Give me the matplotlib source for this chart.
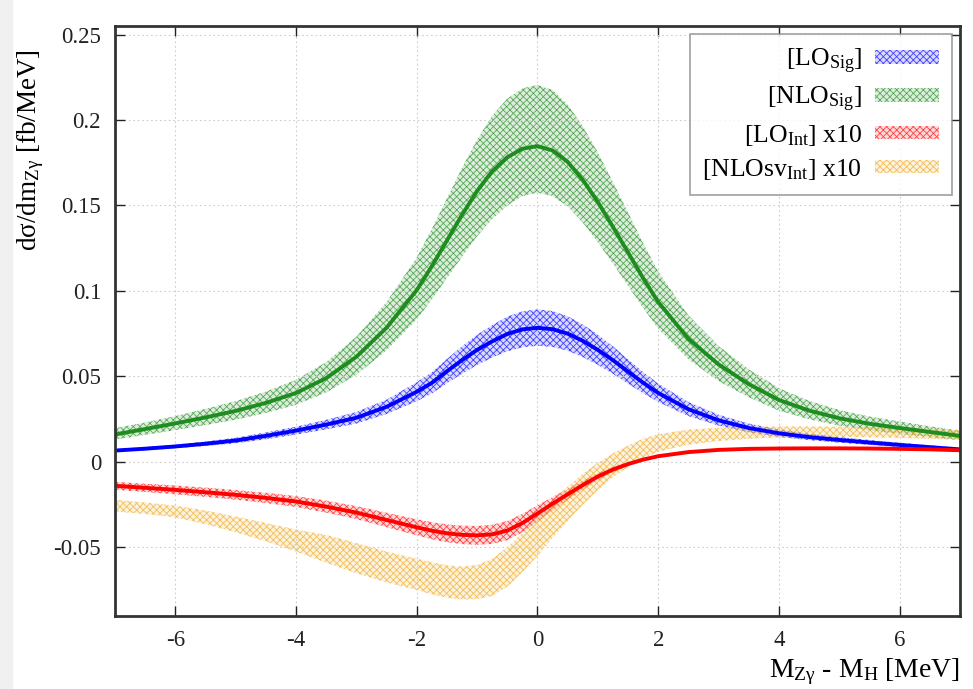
import matplotlib
matplotlib.use("Agg")
import matplotlib.pyplot as plt
import numpy as np

# x grid (M_Zgamma - M_H in MeV)
x = [-7, -6.5, -6, -5.5, -5, -4.5, -4, -3.5, -3, -2.5,
     -2, -1.75, -1.5, -1.25, -1, -0.75, -0.5, -0.25, 0, 0.25, 0.5, 0.75, 1, 1.25, 1.5, 1.75, 2,
     2.5, 3, 3.5, 4, 4.5, 5, 5.5, 6, 6.5, 7]

# [LO_Sig]
lo_sig = [0.0066, 0.0077, 0.0090, 0.0106, 0.0125, 0.0152, 0.0183, 0.0218, 0.0258, 0.0322,
          0.0410, 0.0462, 0.0530, 0.0595, 0.0655, 0.0705, 0.0748, 0.0775, 0.0784, 0.0776, 0.0750,
          0.0708, 0.0655, 0.0595, 0.0528, 0.0463, 0.0403,
          0.0308, 0.0243, 0.0198, 0.0167, 0.0145, 0.0128, 0.0113, 0.0099, 0.0086, 0.0073]
lo_sig_lo = [0.0059, 0.0068, 0.0080, 0.0093, 0.0109, 0.0132, 0.0160, 0.0190, 0.0224, 0.0280,
             0.0355, 0.0400, 0.0460, 0.0515, 0.0567, 0.0610, 0.0647, 0.0670, 0.0679, 0.0672, 0.0650,
             0.0613, 0.0567, 0.0515, 0.0457, 0.0402, 0.0350,
             0.0268, 0.0212, 0.0173, 0.0146, 0.0127, 0.0112, 0.0099, 0.0087, 0.0076, 0.0066]
lo_sig_hi = [0.0073, 0.0086, 0.0100, 0.0119, 0.0141, 0.0172, 0.0206, 0.0246, 0.0292, 0.0364,
             0.0466, 0.0525, 0.0602, 0.0676, 0.0744, 0.0800, 0.0850, 0.0880, 0.0892, 0.0882, 0.0852,
             0.0804, 0.0744, 0.0676, 0.0600, 0.0526, 0.0458,
             0.0350, 0.0276, 0.0224, 0.0189, 0.0164, 0.0145, 0.0128, 0.0112, 0.0097, 0.0080]

# [NLO_Sig]
nlo_sig = [0.0160, 0.0192, 0.0225, 0.0260, 0.0298, 0.0345, 0.0403, 0.0490, 0.0615, 0.0785,
           0.1005, 0.1145, 0.1295, 0.1445, 0.1585, 0.1700, 0.1782, 0.1832, 0.1847, 0.1822, 0.1755,
           0.1650, 0.1520, 0.1375, 0.1225, 0.1075, 0.0935,
           0.0720, 0.0570, 0.0455, 0.0362, 0.0300, 0.0255, 0.0223, 0.0198, 0.0175, 0.0152]
nlo_sig_lo = [0.0130, 0.0158, 0.0186, 0.0215, 0.0247, 0.0286, 0.0334, 0.0406, 0.0510, 0.0652,
              0.0834, 0.0950, 0.1075, 0.1200, 0.1320, 0.1420, 0.1500, 0.1555, 0.1575, 0.1555, 0.1495,
              0.1400, 0.1285, 0.1160, 0.1030, 0.0900, 0.0780,
              0.0600, 0.0473, 0.0378, 0.0300, 0.0249, 0.0212, 0.0185, 0.0164, 0.0145, 0.0128]
nlo_sig_hi = [0.0198, 0.0230, 0.0268, 0.0310, 0.0355, 0.0411, 0.0480, 0.0584, 0.0732, 0.0935,
              0.1196, 0.1363, 0.1541, 0.1720, 0.1885, 0.2025, 0.2125, 0.2185, 0.2205, 0.2175, 0.2090,
              0.1965, 0.1810, 0.1637, 0.1460, 0.1280, 0.1113,
              0.0857, 0.0678, 0.0541, 0.0431, 0.0357, 0.0303, 0.0265, 0.0236, 0.0208, 0.0181]

# [LO_Int] x10
lo_int = [-0.0140, -0.0152, -0.0164, -0.0178, -0.0193, -0.0211, -0.0232, -0.0262, -0.0297, -0.0340,
          -0.0383, -0.0403, -0.0418, -0.0427, -0.0430, -0.0424, -0.0402, -0.0358, -0.0302, -0.0245, -0.0190,
          -0.0136, -0.0086, -0.0045, -0.0013, 0.0013, 0.0033,
          0.0057, 0.0070, 0.0076, 0.0078, 0.0079, 0.0079, 0.0078, 0.0076, 0.0073, 0.0068]
lo_int_lo = [-0.0163, -0.0176, -0.0190, -0.0205, -0.0221, -0.0241, -0.0264, -0.0297, -0.0335, -0.0382,
             -0.0430, -0.0453, -0.0470, -0.0481, -0.0485, -0.0480, -0.0458, -0.0412, -0.0350, -0.0284, -0.0222,
             -0.0161, -0.0106, -0.0060, -0.0024, 0.0005, 0.0028,
             0.0054, 0.0068, 0.0074, 0.0076, 0.0077, 0.0077, 0.0076, 0.0074, 0.0071, 0.0066]
lo_int_hi = [-0.0117, -0.0128, -0.0138, -0.0151, -0.0165, -0.0181, -0.0200, -0.0227, -0.0259, -0.0298,
             -0.0336, -0.0353, -0.0366, -0.0373, -0.0375, -0.0368, -0.0346, -0.0304, -0.0254, -0.0206, -0.0158,
             -0.0111, -0.0066, -0.0030, -0.0002, 0.0021, 0.0038,
             0.0060, 0.0072, 0.0078, 0.0080, 0.0081, 0.0081, 0.0080, 0.0078, 0.0075, 0.0070]

# [NLOsv_Int] x10 (band only)
nlosv_int_lo = [-0.0290, -0.0305, -0.0325, -0.0365, -0.0412, -0.0465, -0.0525, -0.0590, -0.0652, -0.0705,
                -0.0750, -0.0775, -0.0795, -0.0805, -0.0803, -0.0785, -0.0730, -0.0645, -0.0550, -0.0445, -0.0345,
                -0.0250, -0.0165, -0.0090, -0.0030, 0.0020, 0.0060,
                0.0100, 0.0122, 0.0135, 0.0143, 0.0146, 0.0146, 0.0144, 0.0140, 0.0135, 0.0129]
nlosv_int_hi = [-0.0222, -0.0238, -0.0256, -0.0285, -0.0320, -0.0358, -0.0396, -0.0428, -0.0475, -0.0525,
                -0.0567, -0.0588, -0.0605, -0.0613, -0.0603, -0.0568, -0.0500, -0.0415, -0.0325, -0.0230, -0.0145,
                -0.0070, -0.0005, 0.0050, 0.0095, 0.0135, 0.0162,
                0.0188, 0.0200, 0.0205, 0.0207, 0.0207, 0.0206, 0.0204, 0.0200, 0.0194, 0.0187]

plt.rcParams['font.family'] = ['Liberation Serif', 'DejaVu Serif']
plt.rcParams['mathtext.fontset'] = 'custom'
plt.rcParams['mathtext.rm'] = 'Liberation Serif'
plt.rcParams['mathtext.it'] = 'Liberation Serif:italic'
plt.rcParams['hatch.linewidth'] = 0.6

fig = plt.figure(figsize=(9.73, 6.89), dpi=100)
# light grey strip on the left edge, as in the screenshot
fig.patches.append(plt.Rectangle((0, 0), 12 / 973, 1, transform=fig.transFigure,
                                 color='#f0f0f0', zorder=-10))
ax = fig.add_axes([0.1182, 0.1064, 0.8684, 0.8559])

blue = '#0000ff'
green = '#1e8c1e'
red = '#ff0000'
orange = '#f0a820'


def band(lo, hi, col, label):
    ax.fill_between(x, lo, hi, facecolor=matplotlib.colors.to_rgba(col, 0.15),
                    edgecolor=matplotlib.colors.to_rgba(col, 0.7), hatch='xxxxx',
                    linewidth=0, label=label)


band(lo_sig_lo, lo_sig_hi, blue, r'[LO$_{\mathrm{Sig}}$]')
ax.plot(x, lo_sig, color=blue, lw=2.8)
band(nlo_sig_lo, nlo_sig_hi, green, r'[NLO$_{\mathrm{Sig}}$]')
ax.plot(x, nlo_sig, color=green, lw=2.8)
band(lo_int_lo, lo_int_hi, red, r'[LO$_{\mathrm{Int}}$] x10')
ax.plot(x, lo_int, color=red, lw=2.8)
band(nlosv_int_lo, nlosv_int_hi, orange, r'[NLOsv$_{\mathrm{Int}}$] x10')

ax.set_xlim(-7, 7)
ax.set_ylim(-0.09, 0.255)
ax.set_xticks([-6, -4, -2, 0, 2, 4, 6])
ax.set_yticks([-0.05, 0, 0.05, 0.1, 0.15, 0.2, 0.25])
ax.set_yticklabels(['-0.05', '0', '0.05', '0.1', '0.15', '0.2', '0.25'])
ax.set_xticklabels(['-6', '-4', '-2', '0', '2', '4', '6'])
ax.tick_params(direction='in', top=True, right=True, length=7, width=1,
               labelsize=16.5, pad=10, colors='#222222')
ax.grid(True, color='#cccccc', linestyle=(0, (1.5, 2.5)), linewidth=0.8)
for s in ax.spines.values():
    s.set_linewidth(2)
    s.set_color('#333333')

ax.set_ylabel('dσ/dm$_{\\mathrm{Zγ}}$ [fb/MeV]', fontsize=19.5,
              va='center', ha='center')
ax.yaxis.set_label_coords(-0.1, 0.79)
ax.set_xlabel('M$_{\\mathrm{Zγ}}$ - M$_{\\mathrm{H}}$ [MeV]', fontsize=20, loc='right', labelpad=4)

leg = ax.legend(loc='upper right', markerfirst=False, fontsize=18.5, frameon=True,
                fancybox=False, edgecolor='#888888', handlelength=2.5, handleheight=0.45,
                handletextpad=0.5, labelspacing=0.35, borderaxespad=0.3, borderpad=0.5)
leg.get_frame().set_linewidth(1.2)

fig.savefig('out.png', dpi=100, facecolor='white')
